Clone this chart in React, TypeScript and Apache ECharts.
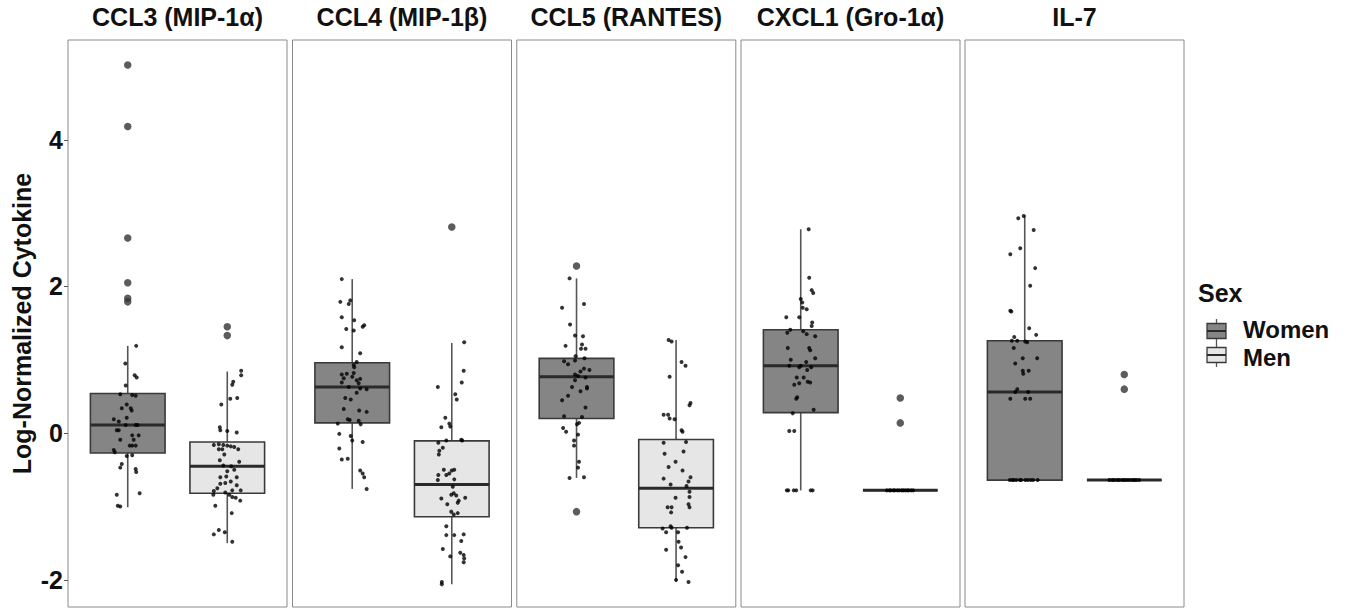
import React, { useEffect, useRef } from "react";
import * as echarts from "echarts";

const panelNames = ["CCL3 (MIP-1α)", "CCL4 (MIP-1β)", "CCL5 (RANTES)", "CXCL1 (Gro-1α)", "IL-7"];
const groups = ["Women", "Men"];
const yTicks = [-2, 0, 2, 4];
const yTitle = "Log-Normalized Cytokine";
const legendTitle = "Sex";

// box stats: [min, Q1, median, Q3, max]
const womenStats = [
  [-1.01, -0.27, 0.11, 0.54, 1.19],
  [-0.76, 0.14, 0.63, 0.96, 2.1],
  [-0.61, 0.2, 0.77, 1.02, 2.11],
  [-0.78, 0.28, 0.92, 1.41, 2.78],
  [-0.64, -0.64, 0.56, 1.26, 2.97],
];
const menStats = [
  [-1.5, -0.82, -0.45, -0.12, 0.84],
  [-2.06, -1.14, -0.7, -0.105, 1.23],
  [-2.03, -1.29, -0.75, -0.087, 1.27],
  [-0.78, -0.78, -0.78, -0.78, -0.78],
  [-0.64, -0.64, -0.64, -0.64, -0.64],
];
const womenOutliers = [[5.02, 4.18, 2.66, 2.05, 1.84, 1.79], [], [2.28, -1.07], [], []];
const menOutliers = [[1.45, 1.33], [2.81], [], [0.48, 0.14], [0.8, 0.6]];

// jittered points: [x offset, value]
const ccl3Women = [[0.085,1.19],[-0.024,0.95],[0.07,0.79],[0.09,0.76],[-0.02,0.65],[-0.075,0.53],[0.045,0.52],[0.08,0.51],[-0.01,0.39],[-0.06,0.34],[0.03,0.34],[0.04,0.31],[-0.14,0.19],[-0.09,0.16],[-0.01,0.21],[-0.11,0.04],[-0.09,0.04],[-0.02,0.11],[0.08,0.11],[0.1,0.11],[-0.075,-0.09],[0.045,-0.03],[0.06,-0.09],[0.11,-0.03],[0.02,-0.17],[0.045,-0.17],[0.08,-0.17],[-0.14,-0.23],[-0.13,-0.26],[-0.01,-0.31],[0.045,-0.3],[-0.06,-0.42],[-0.075,-0.47],[0.08,-0.49],[0.085,-0.53],[-0.11,-0.84],[0.12,-0.82],[-0.1,-0.99],[-0.075,-1.0]];
const ccl3Men = [[0.14,0.85],[0.14,0.79],[0.06,0.7],[0.05,0.66],[0.03,0.47],[0.1,0.48],[-0.06,0.39],[-0.075,0.08],[-0.07,0.04],[0,0.03],[0.095,0.01],[-0.135,-0.16],[-0.085,-0.15],[-0.04,-0.16],[0,-0.17],[0.035,-0.18],[0.07,-0.19],[0.11,-0.22],[-0.085,-0.22],[-0.05,-0.22],[-0.03,-0.29],[-0.075,-0.37],[0.12,-0.39],[-0.04,-0.44],[0.04,-0.45],[0,-0.52],[0.07,-0.5],[-0.07,-0.6],[-0.01,-0.59],[0.095,-0.6],[0.035,-0.66],[-0.07,-0.69],[-0.02,-0.68],[0.095,-0.71],[-0.1,-0.75],[-0.135,-0.79],[-0.02,-0.81],[0.05,-0.78],[0.135,-0.78],[-0.14,-0.84],[0.02,-0.84],[0.05,-0.87],[0.085,-0.88],[0.13,-0.92],[-0.12,-0.99],[0.045,-1.09],[-0.085,-1.32],[-0.135,-1.38],[-0.025,-1.35],[0.05,-1.48]];
const ccl4Women = [[-0.105,2.1],[-0.12,1.79],[-0.02,1.81],[-0.035,1.76],[-0.105,1.58],[0.02,1.54],[-0.06,1.42],[0.015,1.4],[0.105,1.45],[0.12,1.47],[-0.105,1.17],[0.08,1.09],[0.045,0.97],[0.015,0.93],[0.02,0.9],[-0.105,0.8],[-0.055,0.81],[0.015,0.82],[-0.085,0.75],[0,0.77],[0.045,0.72],[0.08,0.74],[-0.105,0.69],[0.065,0.68],[-0.035,0.63],[0.145,0.6],[0.08,0.61],[0.045,0.55],[-0.07,0.48],[-0.015,0.46],[-0.085,0.33],[0.07,0.31],[0.145,0.29],[-0.045,0.19],[-0.025,0.18],[0.065,0.17],[-0.145,0.13],[0.085,0.12],[-0.13,-0.01],[-0.015,-0.04],[0,-0.1],[0.105,-0.12],[-0.13,-0.21],[-0.105,-0.36],[-0.045,-0.35],[0.08,-0.51],[0.105,-0.55],[0.12,-0.6],[0.145,-0.76]];
const ccl4Men = [[0.125,1.24],[0.12,0.85],[0.1,0.69],[-0.14,0.63],[0.035,0.53],[0.05,0.46],[-0.065,0.21],[-0.105,0.08],[-0.025,0.13],[-0.015,0.09],[-0.055,-0.1],[-0.135,-0.13],[0.095,-0.09],[0.105,-0.1],[-0.09,-0.2],[-0.125,-0.24],[-0.13,-0.29],[-0.08,-0.5],[-0.055,-0.57],[-0.135,-0.57],[-0.025,-0.55],[0,-0.51],[0.025,-0.5],[-0.14,-0.64],[0.025,-0.63],[0.01,-0.73],[0.02,-0.82],[0.045,-0.85],[-0.005,-0.84],[-0.105,-0.89],[0.135,-0.88],[-0.045,-0.97],[0.06,-0.95],[0.07,-0.92],[-0.005,-1.07],[0.02,-1.11],[0.06,-1.09],[-0.055,-1.27],[-0.055,-1.39],[0.025,-1.39],[0.12,-1.38],[0.095,-1.47],[-0.09,-1.58],[-0.015,-1.68],[0.085,-1.63],[0.12,-1.66],[0.125,-1.71],[0.12,-1.76],[-0.1,-2.03],[-0.1,-2.06]];
const ccl5Women = [[-0.07,2.11],[0.075,1.76],[-0.145,1.71],[-0.065,1.48],[-0.015,1.33],[0.065,1.32],[-0.11,1.19],[0.055,1.21],[0.045,1.15],[0.09,1.15],[-0.01,1.05],[-0.015,0.99],[0.08,1.02],[-0.125,0.98],[-0.085,0.94],[-0.015,0.8],[0.04,0.84],[0.075,0.88],[0.13,0.86],[0.015,0.78],[0.09,0.76],[-0.015,0.72],[-0.045,0.63],[0.105,0.63],[0.04,0.57],[0.105,0.61],[-0.085,0.51],[-0.145,0.45],[0.09,0.35],[-0.125,0.23],[0.055,0.22],[0.025,0.14],[0.005,0.12],[-0.135,0.07],[-0.105,0.02],[0.015,-0.02],[-0.025,-0.1],[-0.025,-0.17],[0.025,-0.39],[0.015,-0.47],[0.075,-0.6],[-0.07,-0.61]];
const ccl5Men = [[-0.075,1.27],[-0.045,1.25],[0.055,0.97],[0.095,0.92],[-0.065,0.77],[0.135,0.38],[0.145,0.41],[-0.125,0.25],[-0.08,0.25],[-0.065,0.2],[-0.015,0.19],[0.055,0.04],[0.065,0.02],[-0.125,-0.13],[0.1,-0.12],[-0.115,-0.28],[0.075,-0.25],[-0.075,-0.46],[-0.005,-0.39],[0.065,-0.51],[-0.125,-0.62],[-0.055,-0.7],[0.105,-0.72],[0.145,-0.6],[0.125,-0.66],[-0.005,-0.88],[0.135,-0.8],[0.135,-0.87],[-0.085,-1.01],[-0.045,-1.01],[-0.05,-1.08],[0.125,-0.97],[0.135,-1.01],[-0.135,-1.3],[-0.1,-1.35],[-0.055,-1.27],[-0.045,-1.29],[0.11,-1.29],[0.02,-1.35],[0.025,-1.48],[0.05,-1.56],[-0.1,-1.59],[0.095,-1.69],[0.02,-1.8],[0.06,-1.89],[0,-2.0],[0.125,-2.03]];
const cxcl1Women = [[0.08,2.78],[0.085,2.12],[0.11,1.95],[0.125,1.91],[0,1.83],[0.015,1.78],[0.02,1.71],[0.06,1.69],[-0.145,1.58],[-0.015,1.58],[0.115,1.51],[0.11,1.46],[-0.135,1.37],[-0.105,1.41],[0.025,1.39],[0.06,1.35],[0.145,1.32],[-0.13,1.16],[0.085,1.16],[0.095,1.13],[-0.1,1.0],[0.145,1.02],[0.055,0.97],[-0.115,0.92],[-0.015,0.9],[0,0.92],[0.105,0.9],[0.065,0.86],[-0.04,0.76],[0.03,0.76],[-0.065,0.66],[-0.015,0.68],[0.07,0.7],[0.095,0.69],[-0.045,0.47],[-0.035,0.49],[0.13,0.32],[-0.08,0.27],[-0.115,0.03],[-0.065,0.03],[-0.14,-0.78],[-0.125,-0.78],[-0.07,-0.78],[-0.045,-0.78],[0.1,-0.78],[0.12,-0.78]];
const cxcl1Men = [[-0.135,-0.78],[-0.11,-0.78],[-0.095,-0.78],[-0.07,-0.78],[-0.055,-0.78],[-0.03,-0.78],[-0.01,-0.78],[0.015,-0.78],[0.03,-0.78],[0.05,-0.78],[0.07,-0.78],[0.085,-0.78],[0.11,-0.78],[0.13,-0.78]];
const il7Women = [[-0.065,2.93],[-0.01,2.96],[0.09,2.77],[-0.045,2.52],[-0.145,2.44],[0.105,2.25],[0.055,2.01],[-0.145,1.67],[-0.135,1.66],[0.045,1.43],[0.115,1.34],[-0.105,1.31],[-0.13,1.26],[-0.075,1.26],[0.005,1.25],[0.025,1.24],[-0.11,1.16],[-0.02,1.02],[0.125,1.02],[-0.095,0.95],[-0.02,0.85],[0.04,0.85],[-0.015,0.81],[-0.075,0.6],[-0.095,0.56],[0.035,0.56],[-0.145,0.47],[0.005,0.47],[0.055,0.47],[-0.15,-0.64],[-0.125,-0.64],[-0.11,-0.64],[-0.085,-0.64],[-0.05,-0.64],[-0.035,-0.64],[0.005,-0.64],[0.03,-0.64],[0.06,-0.64],[0.085,-0.64],[0.13,-0.64]];
const il7Men = [[-0.15,-0.64],[-0.12,-0.64],[-0.1,-0.64],[-0.07,-0.64],[-0.05,-0.64],[-0.02,-0.64],[0.0,-0.64],[0.025,-0.64],[0.05,-0.64],[0.08,-0.64],[0.1,-0.64],[0.12,-0.64],[0.15,-0.64]];

const womenPoints = [ccl3Women, ccl4Women, ccl5Women, cxcl1Women, il7Women];
const menPoints = [ccl3Men, ccl4Men, ccl5Men, cxcl1Men, il7Men];

const FONT = "'Liberation Sans', Arial, Helvetica, sans-serif";
const fills = ["#858585", "#e6e6e6"];

export default function App() {
  const ref = useRef<HTMLDivElement>(null);
  useEffect(() => {
    if (!ref.current) return;
    const chart = echarts.init(ref.current, null, { renderer: "svg" });
    const panelLeft = [68, 292.5, 516.8, 741, 965];
    const panelW = 219;
    const top = 40;
    const bottom = 3;
    const grids: any[] = [];
    const xAxes: any[] = [];
    const yAxes: any[] = [];
    const series: any[] = [];
    const titles: any[] = [];
    panelNames.forEach((name, i) => {
      grids.push({ left: panelLeft[i], top, width: panelW, bottom, show: true, borderColor: "#8a8a8a", borderWidth: 1 });
      xAxes.push({ type: "value", gridIndex: i, min: 0.4, max: 2.6, show: false });
      yAxes.push({
        type: "value", gridIndex: i, min: -2.37, max: 5.36,
        name: i === 0 ? yTitle : "", nameLocation: "middle", nameGap: 34,
        nameTextStyle: { fontSize: 25, fontWeight: "bold", color: "#111", fontFamily: FONT },
        axisLine: { show: false },
        splitLine: { show: false },
        axisTick: { show: i === 0, customValues: yTicks, length: 4, lineStyle: { color: "#555" } },
        axisLabel: { show: i === 0, customValues: yTicks, fontSize: 25, fontWeight: "bold", color: "#111", margin: 5, fontFamily: FONT },
      });
      titles.push({
        text: name, left: panelLeft[i] + panelW / 2, top: 4, textAlign: "center", padding: 0,
        textStyle: { fontSize: 25, fontWeight: "bold", color: "#111", fontFamily: FONT },
      });
      const boxData = [
        [1, ...womenStats[i], 0],
        [2, ...menStats[i], 1],
      ];
      series.push({
        type: "custom", xAxisIndex: i, yAxisIndex: i, z: 2,
        encode: { x: 0, y: [1, 2, 3, 4, 5] },
        data: boxData,
        renderItem: (params: any, api: any) => {
          const x = api.value(0);
          const pMin = api.coord([x, api.value(1)]);
          const pQ1 = api.coord([x, api.value(2)]);
          const pMed = api.coord([x, api.value(3)]);
          const pQ3 = api.coord([x, api.value(4)]);
          const pMax = api.coord([x, api.value(5)]);
          const g = api.value(6);
          const half = api.size([0.75, 0])[0] / 2;
          const cx = pMed[0];
          const wStyle = { stroke: "#555", lineWidth: 1.6 };
          return {
            type: "group",
            children: [
              { type: "line", shape: { x1: cx, y1: pMax[1], x2: cx, y2: pQ3[1] }, style: wStyle },
              { type: "line", shape: { x1: cx, y1: pQ1[1], x2: cx, y2: pMin[1] }, style: wStyle },
              { type: "rect", shape: { x: cx - half, y: pQ3[1], width: half * 2, height: pQ1[1] - pQ3[1] }, style: { fill: fills[g], stroke: "#3a3a3a", lineWidth: 1.6 } },
              { type: "line", shape: { x1: cx - half, y1: pMed[1], x2: cx + half, y2: pMed[1] }, style: { stroke: "#2a2a2a", lineWidth: 3 } },
            ],
          };
        },
      });
      const outl: number[][] = [];
      womenOutliers[i].forEach((v) => outl.push([1, v]));
      menOutliers[i].forEach((v) => outl.push([2, v]));
      series.push({
        type: "scatter", xAxisIndex: i, yAxisIndex: i, z: 3, symbolSize: 7.5,
        itemStyle: { color: "#333" }, data: outl,
      });
      const pts: number[][] = [];
      womenPoints[i].forEach((p) => pts.push([1 + p[0], p[1]]));
      menPoints[i].forEach((p) => pts.push([2 + p[0], p[1]]));
      series.push({
        type: "scatter", xAxisIndex: i, yAxisIndex: i, z: 4, symbolSize: 4,
        itemStyle: { color: "#000" }, data: pts,
      });
    });

    const legendX = 1207;
    const keyW = 19;
    const keyCy = [331, 355];
    const textCy = [329.5, 357];
    const legendGraphics: any[] = [
      { type: "text", left: 1198, top: 280, style: { text: legendTitle, fontSize: 25, fontWeight: "bold", fill: "#111", fontFamily: FONT } },
    ];
    groups.forEach((g, k) => {
      const cy = keyCy[k];
      legendGraphics.push(
        { type: "line", shape: { x1: legendX + keyW / 2, y1: cy - 12, x2: legendX + keyW / 2, y2: cy + 12 }, style: { stroke: "#555", lineWidth: 1.3 } },
        { type: "rect", shape: { x: legendX, y: cy - 7.5, width: keyW, height: 15 }, style: { fill: fills[k], stroke: "#3a3a3a", lineWidth: 1.3 } },
        { type: "line", shape: { x1: legendX, y1: cy, x2: legendX + keyW, y2: cy }, style: { stroke: "#2a2a2a", lineWidth: 2 } },
        { type: "text", x: 1243, y: textCy[k], style: { text: g, fontSize: 24, lineHeight: 22, fontWeight: "bold", fill: "#111", fontFamily: FONT, verticalAlign: "middle", align: "left" } }
      );
    });

    chart.setOption({
      animation: false,
      textStyle: { fontFamily: FONT },
      title: titles,
      grid: grids,
      xAxis: xAxes,
      yAxis: yAxes,
      series,
      graphic: legendGraphics,
    });
    return () => chart.dispose();
  }, []);
  return <div ref={ref} style={{ position: "absolute", left: 0, top: 0, width: 1358, height: 610 }} />;
}
